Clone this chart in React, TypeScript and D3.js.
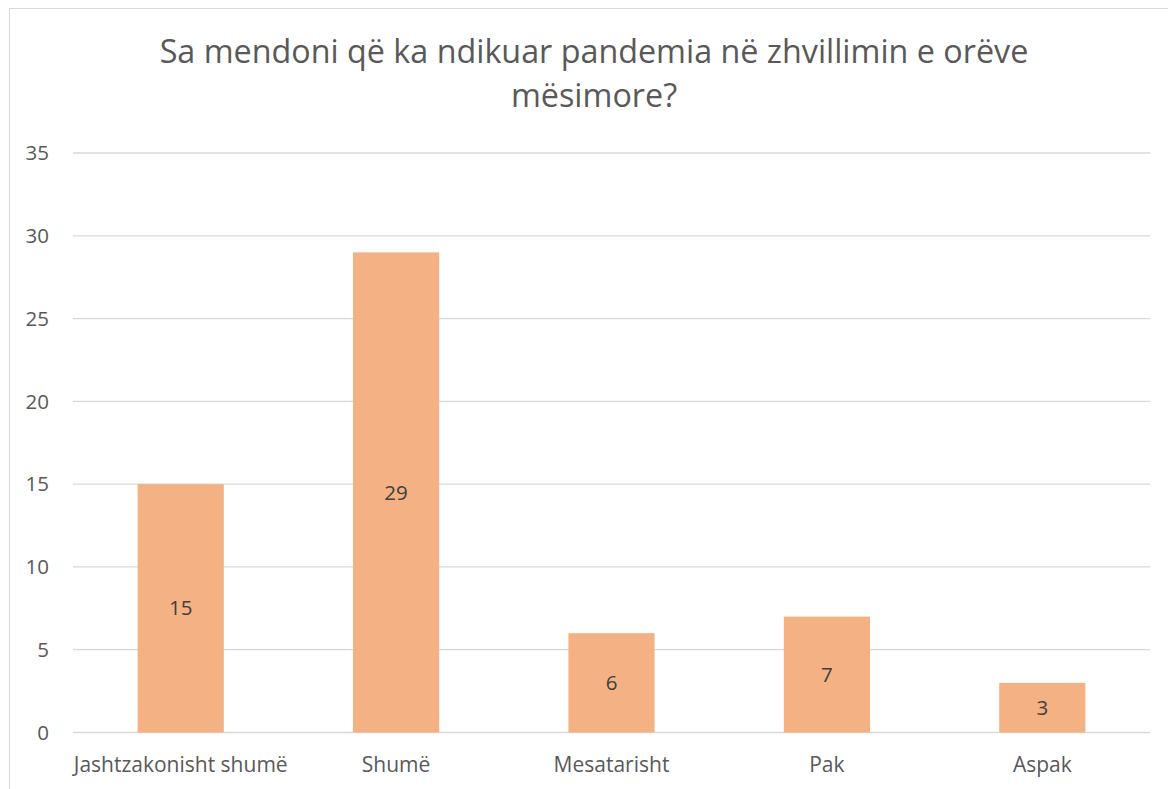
import React, { useEffect, useRef } from 'react';
import * as d3 from 'd3';

const categories = ['Jashtzakonisht shumë', 'Shumë', 'Mesatarisht', 'Pak', 'Aspak'];
const values = [15, 29, 6, 7, 3];
const yTicks = [0, 5, 10, 15, 20, 25, 30, 35];
const titleLines = ['Sa mendoni që ka ndikuar pandemia në zhvillimin e orëve', 'mësimore?'];

const W = 1168;
const H = 789;
const FONT = '"Open Sans", sans-serif';

export default function App() {
  const ref = useRef<SVGSVGElement | null>(null);

  useEffect(() => {
    const svg = d3.select(ref.current);
    svg.selectAll('*').remove();

    const left = 73, right = 1150, top = 153, bottom = 732.5;

    // chart border (runs off the right and bottom edge)
    svg.append('rect')
      .attr('x', 9.5).attr('y', 8.5)
      .attr('width', W).attr('height', H)
      .attr('fill', '#fff')
      .attr('stroke', '#d9d9d9');

    const x = d3.scaleBand()
      .domain(categories)
      .range([left, right])
      .paddingInner(0.6)
      .paddingOuter(0.3);

    const y = d3.scaleLinear().domain([0, 35]).range([bottom, top]);

    // gridlines
    svg.append('g').selectAll('line')
      .data(yTicks)
      .enter().append('line')
      .attr('x1', left).attr('x2', right)
      .attr('y1', d => y(d)).attr('y2', d => y(d))
      .attr('stroke', '#d9d9d9').attr('stroke-width', 1.3);

    // y tick labels
    svg.append('g').selectAll('text')
      .data(yTicks)
      .enter().append('text')
      .attr('x', 49).attr('y', d => y(d))
      .attr('dy', '0.35em')
      .attr('text-anchor', 'end')
      .attr('font-family', FONT).attr('font-size', 20.5)
      .attr('fill', '#595959')
      .text(d => d);

    // bars
    svg.append('g').selectAll('rect')
      .data(values)
      .enter().append('rect')
      .attr('x', (d, i) => x(categories[i]) as number)
      .attr('width', x.bandwidth())
      .attr('y', d => y(d))
      .attr('height', d => bottom - y(d))
      .attr('fill', '#f4b183');

    // data labels
    svg.append('g').selectAll('text')
      .data(values)
      .enter().append('text')
      .attr('x', (d, i) => (x(categories[i]) as number) + x.bandwidth() / 2)
      .attr('y', d => (y(d) + bottom) / 2)
      .attr('dy', '0.35em')
      .attr('text-anchor', 'middle')
      .attr('font-family', FONT).attr('font-size', 20.5)
      .attr('fill', '#404040')
      .text(d => d);

    // category labels
    svg.append('g').selectAll('text')
      .data(categories)
      .enter().append('text')
      .attr('x', d => (x(d) as number) + x.bandwidth() / 2)
      .attr('y', 772)
      .attr('text-anchor', 'middle')
      .attr('font-family', FONT).attr('font-size', 21)
      .attr('fill', '#595959')
      .text(d => d);

    // title
    svg.append('g').selectAll('text')
      .data(titleLines)
      .enter().append('text')
      .attr('x', 594)
      .attr('y', (d, i) => 63 + i * 44)
      .attr('text-anchor', 'middle')
      .attr('font-family', FONT).attr('font-size', 32.3)
      .attr('fill', '#595959')
      .text(d => d);
  }, []);

  return (
    <div style={{ position: 'absolute', left: 0, top: 0 }}>
      <svg ref={ref} width={W} height={H} style={{ display: 'block' }}></svg>
    </div>
  );
}
